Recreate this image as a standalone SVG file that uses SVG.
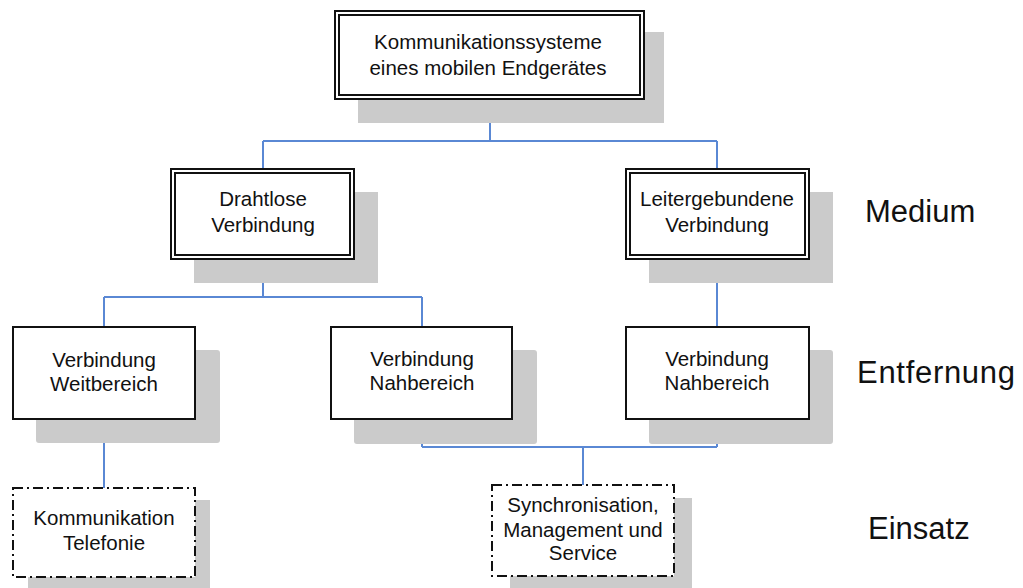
<svg xmlns="http://www.w3.org/2000/svg" width="1023" height="588" viewBox="0 0 1023 588">
<style>
.shadow{fill:#cbcbcb}
.box{fill:#fff;stroke:#111;stroke-width:2}
.dbl{fill:none;stroke:#111;stroke-width:2}
.dash{fill:#fff;stroke:#111;stroke-width:2;stroke-dasharray:10 4 2 4}
.t{font-family:"Liberation Sans",Arial,sans-serif;font-size:20.5px;fill:#111;text-anchor:middle}
.lbl{font-family:"Liberation Sans",Arial,sans-serif;font-size:31px;fill:#111}
.c{fill:none;stroke:#5a88d4;stroke-width:2}
</style>
<rect width="1023" height="588" fill="#fff"/>
<g id="connectors">
<path class="c" d="M490 100 V141 M263 141 H717 M263 141 V168 M717 141 V168"/>
<path class="c" d="M263 260 V297 M104 297 H422 M104 297 V327 M422 297 V327"/>
<path class="c" d="M717 260 V327"/>
<path class="c" d="M104 419 V488"/>
<path class="c" d="M422 419 V447 M717 419 V447 M422 447 H717 M583 447 V485"/>
</g>
<g id="node-top">
<rect class="shadow" x="358" y="32" width="306" height="91"/>
<rect class="box" x="335" y="11" width="309" height="88"/>
<rect class="dbl" x="339" y="15" width="301" height="80"/>
<text class="t" x="488" y="49">Kommunikationssysteme</text>
<text class="t" x="488" y="75">eines mobilen Endgerätes</text>
</g>
<g id="node-drahtlos">
<rect class="shadow" x="194" y="192" width="184" height="91"/>
<rect class="box" x="171" y="169" width="183" height="90"/>
<rect class="dbl" x="175" y="173" width="175" height="82"/>
<text class="t" x="263" y="206">Drahtlose</text>
<text class="t" x="263" y="232">Verbindung</text>
</g>
<g id="node-leiter">
<rect class="shadow" x="649" y="192" width="184" height="91"/>
<rect class="box" x="626" y="169" width="183" height="90"/>
<rect class="dbl" x="630" y="173" width="175" height="82"/>
<text class="t" x="717" y="206">Leitergebundene</text>
<text class="t" x="717" y="232">Verbindung</text>
</g>
<g id="node-weit">
<rect class="shadow" x="36" y="350" width="184" height="93" rx="3"/>
<rect class="box" x="13" y="327" width="182" height="92"/>
<text class="t" x="104" y="367">Verbindung</text>
<text class="t" x="104" y="391">Weitbereich</text>
</g>
<g id="node-nah1">
<rect class="shadow" x="354" y="350" width="183" height="94" rx="3"/>
<rect class="box" x="331" y="327" width="181" height="92"/>
<text class="t" x="422" y="366">Verbindung</text>
<text class="t" x="422" y="390">Nahbereich</text>
</g>
<g id="node-nah2">
<rect class="shadow" x="649" y="350" width="184" height="94" rx="3"/>
<rect class="box" x="626" y="327" width="183" height="92"/>
<text class="t" x="717" y="366">Verbindung</text>
<text class="t" x="717" y="390">Nahbereich</text>
</g>
<g id="node-komm">
<rect class="shadow" x="28" y="500" width="182" height="92"/>
<rect class="dash" x="13" y="488" width="182" height="89"/>
<text class="t" x="104" y="525">Kommunikation</text>
<text class="t" x="104" y="550">Telefonie</text>
</g>
<g id="node-sync">
<rect class="shadow" x="510" y="498" width="182" height="92"/>
<rect class="dash" x="492" y="485" width="182" height="91"/>
<text class="t" x="583" y="512">Synchronisation,</text>
<text class="t" x="583" y="537">Management und</text>
<text class="t" x="583" y="560">Service</text>
</g>
<g id="labels">
<text class="lbl" x="865" y="222">Medium</text>
<text class="lbl" x="857" y="383" letter-spacing="0.7">Entfernung</text>
<text class="lbl" x="868" y="539">Einsatz</text>
</g>
</svg>
